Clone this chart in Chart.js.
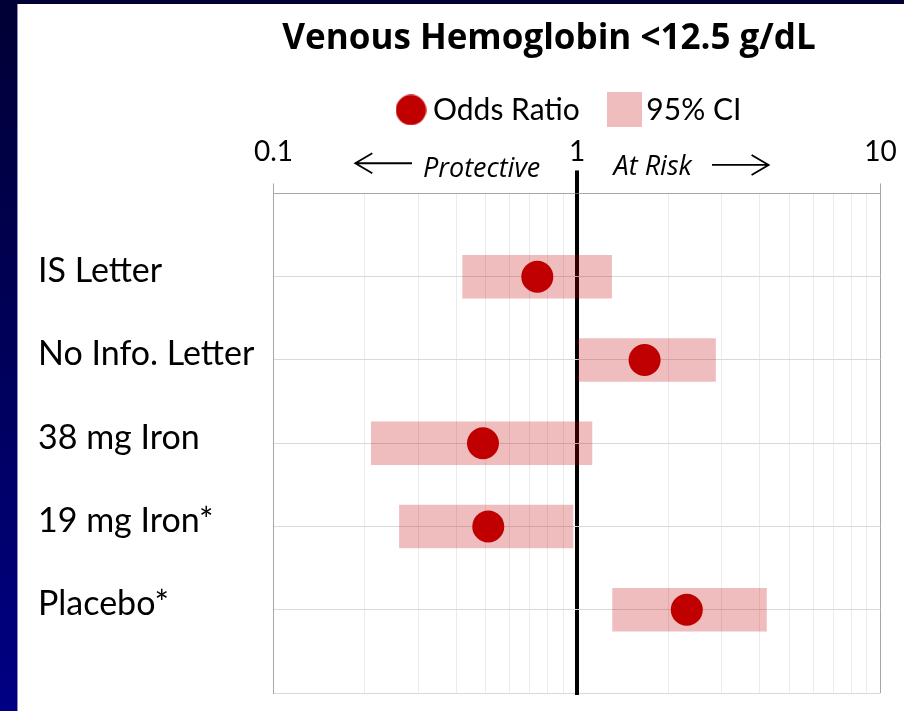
<!DOCTYPE html>
<html><head><meta charset="utf-8">
<script src="https://cdn.jsdelivr.net/npm/chart.js@4"></script>
<style>
html,body{margin:0;padding:0;width:904px;height:711px;overflow:hidden;}
body{background:linear-gradient(to bottom,#000035 0%,#00005a 50%,#000084 100%);}
#panel{position:absolute;left:17px;top:4px;width:887px;height:707px;background:#fff;border-left:1px solid #8c8cc0;box-sizing:border-box;}
#wrap{position:absolute;left:0;top:0;width:886px;height:707px;}
</style></head><body>
<div id="panel"><div id="wrap"><canvas id="c"></canvas></div></div>
<script>
// ---- data ----
const categories = ['IS Letter', 'No Info. Letter', '38 mg Iron', '19 mg Iron*', 'Placebo*'];
const oddsRatio  = [0.74, 1.67, 0.49, 0.51, 2.30];
const ciLower    = [0.42, 1.01, 0.21, 0.26, 1.31];
const ciUpper    = [1.30, 2.86, 1.12, 0.97, 4.21];
const tickLabels = ['0.1', '1', '10'];
const seriesNames = ['Odds Ratio', '95% CI'];
const titleText = 'Venous Hemoglobin <12.5 g/dL';
const leftNote = 'Protective';
const rightNote = 'At Risk';

// ---- styles ----
const OR_COLOR = '#C00000';
const CI_COLOR = 'rgba(192,0,0,0.26)';
const FONT = 'Lato';
const LEGEND_PAD = 37.5;

function isDecade(v){ const l = Math.log10(v); return Math.abs(l - Math.round(l)) < 1e-6; }
function isOne(v){ return Math.abs(v - 1) < 1e-9; }
function isIntSignificand(v){
  const e = Math.floor(Math.log10(v) + 1e-9);
  const m = v / Math.pow(10, e);
  return Math.abs(m - Math.round(m)) < 1e-6;
}

// legend marker images
const dotImg = document.createElement('canvas');
dotImg.width = 31; dotImg.height = 31;
(function(){ const g = dotImg.getContext('2d'); g.fillStyle = OR_COLOR; g.beginPath(); g.arc(15.5,15.5,15.2,0,Math.PI*2); g.fill(); })();
const boxImg = document.createElement('canvas');
boxImg.width = 35; boxImg.height = 35;
(function(){ const g = boxImg.getContext('2d'); g.fillStyle = CI_COLOR; g.fillRect(0,0,35,35); })();

const placePlugin = {
  id: 'place',
  afterLayout(chart){
    const t = chart.titleBlock;
    if (t){ const w = t.right - t.left; const cx = 531; t.left = cx - w/2; t.right = cx + w/2; }
    const lg = chart.legend;
    if (lg){ lg.left = 386 - LEGEND_PAD; }
  }
};

function arrow(ctx, xFrom, xTo, y){
  const dir = Math.sign(xTo - xFrom);
  ctx.beginPath();
  ctx.moveTo(xFrom, y); ctx.lineTo(xTo, y);
  ctx.moveTo(xTo - dir*17, y - 10); ctx.lineTo(xTo, y); ctx.lineTo(xTo - dir*17, y + 10);
  ctx.stroke();
}

const annotPlugin = {
  id: 'annot',
  afterDraw(chart){
    const {ctx, chartArea: a, scales: {x}} = chart;
    const p1 = x.getPixelForValue(1);
    ctx.save();
    ctx.strokeStyle = '#000'; ctx.lineWidth = 4;
    ctx.beginPath(); ctx.moveTo(p1, a.top - 23); ctx.lineTo(p1, a.top); ctx.stroke();
    ctx.beginPath(); ctx.moveTo(p1, a.bottom); ctx.lineTo(p1, a.bottom + 2); ctx.stroke();
    ctx.fillStyle = '#000';
    ctx.font = 'italic 27px "Open Sans"';
    ctx.textBaseline = 'alphabetic';
    ctx.textAlign = 'right'; ctx.fillText(leftNote, p1 - 36.7, a.top - 16.8);
    ctx.textAlign = 'left'; ctx.fillText(rightNote, p1 + 36.6, a.top - 18.5);
    ctx.lineWidth = 1.8; ctx.lineCap = 'butt';
    arrow(ctx, p1 - 165, p1 - 221.7, a.top - 30.2);
    arrow(ctx, p1 + 135, p1 + 191.6, a.top - 28.5);
    ctx.restore();
  }
};

new Chart(document.getElementById('c'), {
  type: 'bar',
  data: {
    datasets: [
      {
        type: 'scatter', label: seriesNames[0],
        data: categories.map((c, i) => ({x: oddsRatio[i], y: i + 1})),
        backgroundColor: OR_COLOR, borderColor: OR_COLOR, borderWidth: 0,
        pointRadius: 16, pointHoverRadius: 16, order: 0
      },
      {
        type: 'bar', label: seriesNames[1], indexAxis: 'y',
        data: categories.map((c, i) => ({x: [ciLower[i], ciUpper[i]], y: i + 1})),
        backgroundColor: CI_COLOR, borderWidth: 0, barThickness: 43, order: 1
      }
    ]
  },
  options: {
    responsive: true, maintainAspectRatio: false, animation: false,
    layout: {padding: {left: 20, right: 23.5, top: 0, bottom: 18}},
    plugins: {
      tooltip: {enabled: false},
      title: {
        display: true, text: titleText, color: '#000',
        font: {family: '"Open Sans"', size: 35, weight: 'bold', lineHeight: '36.3px'},
        padding: {top: 17.15, bottom: 0}
      },
      legend: {
        display: true, position: 'top', align: 'start',
        labels: {
          usePointStyle: true, pointStyleWidth: 14, padding: LEGEND_PAD,
          color: '#000', font: {family: FONT, size: 30},
          generateLabels(chart){
            const items = Chart.defaults.plugins.legend.labels.generateLabels(chart);
            items.forEach(it => { it.pointStyle = it.datasetIndex === 0 ? dotImg : boxImg; });
            return items;
          }
        }
      }
    },
    scales: {
      x: {
        type: 'logarithmic', position: 'top', min: 0.1, max: 10, offset: false,
        afterBuildTicks(s){ s.ticks = s.ticks.filter(t => isIntSignificand(t.value)); },
        afterFit(s){ s.height = 58.5; s.paddingLeft = 0; s.paddingRight = 0; },
        ticks: {
          autoSkip: false, maxRotation: 0, minRotation: 0, padding: 15,
          color: '#000', font: {family: FONT, size: 28},
          callback(v){ if (!isDecade(v)) return ''; return tickLabels[Math.round(Math.log10(v)) + 1]; }
        },
        grid: {
          offset: false,
          color: c => { const v = c.tick && c.tick.value; if (v === undefined) return '#ebebeb'; if (isOne(v)) return '#000'; return isDecade(v) ? '#a6a6a6' : '#ebebeb'; },
          lineWidth: c => (c.tick && isOne(c.tick.value)) ? 4 : 1,
          tickLength: 10,
          tickColor: c => { const v = c.tick && c.tick.value; if (v === undefined) return 'transparent'; if (isOne(v)) return '#000'; return isDecade(v) ? '#a6a6a6' : 'transparent'; },
          tickWidth: c => (c.tick && isOne(c.tick.value)) ? 4 : 1
        },
        border: {color: '#a6a6a6', width: 1}
      },
      y: {
        type: 'linear', reverse: true, min: 0, max: 6, offset: false,
        afterFit(s){ s.width = 235.5; s.paddingTop = 0; s.paddingBottom = 0; },
        ticks: {
          stepSize: 1, autoSkip: false, crossAlign: 'far', labelOffset: -5.5,
          color: '#000', font: {family: FONT, size: 34},
          callback: v => categories[v - 1] ?? ''
        },
        grid: {offset: false, color: '#d9d9d9', drawTicks: false},
        border: {color: '#a6a6a6', width: 1}
      }
    }
  },
  plugins: [placePlugin, annotPlugin]
});
</script>
</body></html>
